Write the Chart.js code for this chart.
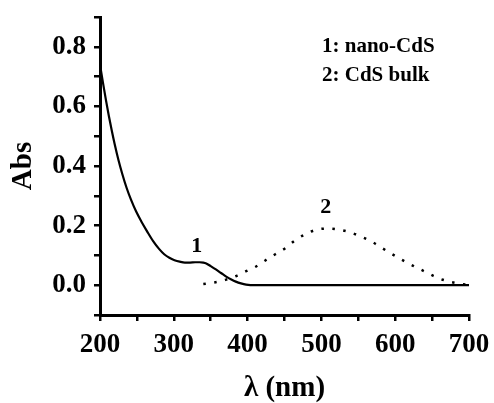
<!DOCTYPE html>
<html>
<head>
<meta charset="utf-8">
<script src="https://cdn.jsdelivr.net/npm/chart.js@4/dist/chart.umd.min.js"></script>
<style>
  html, body { margin: 0; padding: 0; background: #fff; }
  #wrap { width: 494px; height: 403px; }
</style>
</head>
<body>
<div id="wrap"><canvas id="chart_1"></canvas></div>
<script>
// curve 1: nano-CdS (solid)
const nano_x = [200, 204, 208, 212, 216, 220, 225, 230, 236, 242, 249, 256, 264, 272, 280, 287, 294, 301, 308, 315, 322, 329, 335, 340, 344, 350, 357, 364, 371, 378, 384, 391, 398, 410, 430, 500, 600, 700]
const nano_y = [0.74, 0.68, 0.622, 0.568, 0.518, 0.472, 0.42, 0.375, 0.327, 0.287, 0.247, 0.214, 0.18, 0.148, 0.122, 0.104, 0.092, 0.084, 0.079, 0.076, 0.076, 0.077, 0.077, 0.076, 0.073, 0.064, 0.053, 0.041, 0.029, 0.019, 0.012, 0.006, 0.002, 0.0, 0.0, 0.0, 0.0, 0.0]

// curve 2: CdS bulk (dotted)
const bulk_x = [340, 355, 370, 384, 398, 411, 424, 437, 451, 464, 479, 493, 508, 522, 537, 552, 567, 582, 596, 610, 625, 640, 656, 669, 685, 700]
const bulk_y = [0.004, 0.009, 0.018, 0.03, 0.047, 0.062, 0.083, 0.103, 0.124, 0.15, 0.172, 0.186, 0.19, 0.187, 0.179, 0.165, 0.148, 0.125, 0.104, 0.084, 0.064, 0.046, 0.026, 0.015, 0.006, 0.001]

const legend_lines = ["1: nano-CdS", "2: CdS bulk"]
const curve_marks = [
    {text: "1", x: 331, y: 0.13},
    {text: "2", x: 506, y: 0.262}
]

const font_name = "'Liberation Serif', 'Times New Roman', serif"

function to_points(xs, ys){
    return xs.map((x, i) => ({x: x, y: ys[i]}))
}

const text_plugin = {
    id: "text_plugin",
    afterDatasetsDraw(chart){
        const ctx = chart.ctx
        const xs = chart.scales.x
        const ys = chart.scales.y
        ctx.save()
        ctx.fillStyle = "#000"
        ctx.font = "bold 21px " + font_name
        ctx.textAlign = "left"
        ctx.textBaseline = "middle"
        ctx.fillText(legend_lines[0], 322, 47)
        ctx.fillText(legend_lines[1], 322, 76)
        ctx.font = "bold 22px " + font_name
        ctx.textAlign = "center"
        for(let m of curve_marks){
            ctx.fillText(m.text, xs.getPixelForValue(m.x), ys.getPixelForValue(m.y))
        }
        ctx.restore()
    }
}

const ctx_1 = document.getElementById("chart_1").getContext("2d")

const data_1 = {
    datasets: [
        {
            label: "nano-CdS",
            data: to_points(nano_x, nano_y),
            borderColor: "#000",
            borderWidth: 2.2,
            pointRadius: 0,
            cubicInterpolationMode: "monotone"
        },
        {
            label: "CdS bulk",
            data: to_points(bulk_x, bulk_y),
            borderColor: "#000",
            borderWidth: 2.5,
            borderDash: [2.5, 8.5],
            pointRadius: 0,
            cubicInterpolationMode: "monotone"
        }
    ]
}

const config_1 = {
    type: "line",
    data: data_1,
    plugins: [text_plugin],
    options: {
        responsive: true,
        maintainAspectRatio: false,
        animation: false,
        layout: {
            padding: {top: 17, right: 25, left: 0, bottom: 0}
        },
        plugins: {
            legend: {display: false},
            tooltip: {enabled: false}
        },
        scales: {
            x: {
                type: "linear",
                min: 200,
                max: 700,
                afterFit: (s) => {
                    s.height = 88
                    s.paddingLeft = 0
                    s.paddingRight = 0
                },
                border: {display: true, color: "#000", width: 3},
                grid: {drawOnChartArea: false, color: "#000", lineWidth: 2.5, tickLength: 6},
                ticks: {
                    stepSize: 50,
                    color: "#000",
                    padding: 8,
                    maxRotation: 0,
                    autoSkip: false,
                    font: {family: font_name, size: 27, weight: "bold"},
                    callback: (v) => (v % 100 == 0 ? String(v) : "")
                },
                title: {
                    display: true,
                    text: "λ (nm)",
                    color: "#000",
                    padding: {top: 0, bottom: 0},
                    font: {family: font_name, size: 29, weight: "bold", lineHeight: 1.0}
                }
            },
            y: {
                min: -0.1,
                max: 0.9,
                afterFit: (s) => {
                    s.width = 100
                    s.paddingTop = 0
                    s.paddingBottom = 0
                },
                border: {display: true, color: "#000", width: 3},
                grid: {drawOnChartArea: false, color: "#000", lineWidth: 2.5, tickLength: 6},
                ticks: {
                    stepSize: 0.1,
                    color: "#000",
                    padding: 8,
                    autoSkip: false,
                    font: {family: font_name, size: 27, weight: "bold"},
                    callback: (v) => {
                        let k = Math.round(v * 10)
                        return (k % 2 == 0 && k >= 0) ? (k / 10).toFixed(1) : ""
                    }
                },
                title: {
                    display: true,
                    text: "Abs",
                    color: "#000",
                    padding: {top: 6, bottom: 0},
                    font: {family: font_name, size: 29, weight: "bold"}
                }
            }
        }
    }
}
const chart_1 = new Chart(ctx_1, config_1)
</script>
</body>
</html>
